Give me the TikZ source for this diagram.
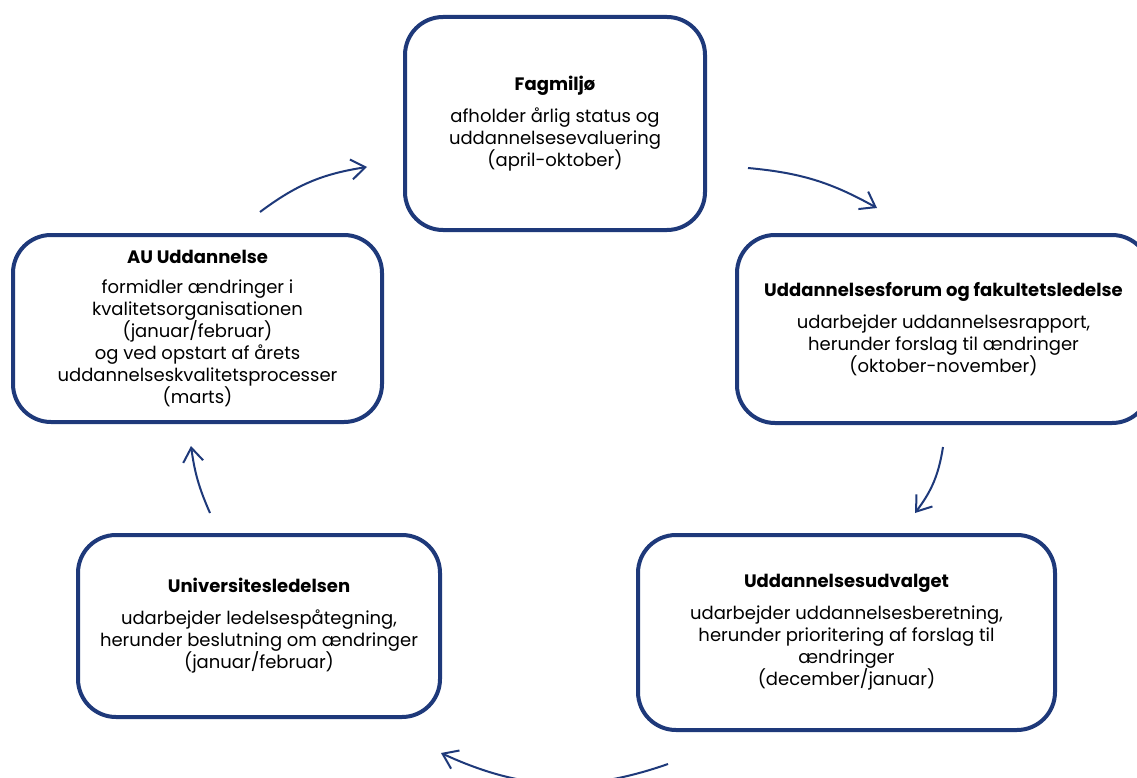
\documentclass[tikz,border=0pt]{standalone}
\usepackage{fontspec}
\setmainfont{Poppins}
\usetikzlibrary{arrows.meta}
\definecolor{aublue}{RGB}{30,57,122}
\begin{document}
\begin{tikzpicture}[x=1pt,y=-1pt,
  box/.style={draw=aublue, line width=4pt, rounded corners=38pt, fill=white,
    align=center, inner sep=0pt,
    font=\fontsize{18}{22}\selectfont},
  flow/.style={draw=aublue, line width=2pt,
    -{Straight Barb[length=14pt,width=20pt,line width=2pt]}}]
\clip (0,0) rectangle (1137,778);
\fill[white] (0,0) rectangle (1137,778);

\node[box, minimum width=300pt, minimum height=213pt] (fag) at (555,123.5)
  {{\bfseries Fagmiljø}\\[10pt]
   afholder årlig status og\\
   uddannelsesevaluering\\
   (april-oktober)};

\node[box, minimum width=413pt, minimum height=188pt] (ufo) at (943.5,329)
  {{\bfseries Uddannelsesforum og fakultetsledelse}\\[10pt]
   udarbejder uddannelsesrapport,\\
   herunder forslag til ændringer\\
   (oktober-november)};

\node[box, minimum width=417pt, minimum height=195pt] (udv) at (846.5,632.5)
  {{\bfseries Uddannelsesudvalget}\\[10pt]
   udarbejder uddannelsesberetning,\\
   herunder prioritering af forslag til\\
   ændringer\\
   (december/januar)};

\node[box, minimum width=362pt, minimum height=182pt] (uni) at (259,626)
  {{\bfseries Universitesledelsen}\\[10pt]
   udarbejder ledelsespåtegning,\\
   herunder beslutning om ændringer\\
   (januar/februar)};

\node[box, minimum width=369pt, minimum height=187pt] (auu) at (197.5,328.5)
  {{\bfseries AU Uddannelse}\\[8pt]
   formidler ændringer i\\
   kvalitetsorganisationen\\
   (januar/februar)\\
   og ved opstart af årets\\
   uddannelseskvalitetsprocesser\\
   (marts)};

\coordinate (a1s) at (260,212);
\coordinate (a1e) at (367,167);
\coordinate (a2s) at (748,168);
\coordinate (a2e) at (877,208);
\coordinate (a3s) at (943,447);
\coordinate (a3e) at (915,513);
\coordinate (a4s) at (668,764);
\coordinate (a4e) at (441,753);
\coordinate (a5s) at (210,513);
\coordinate (a5e) at (191,446);

\draw[flow] (a1s) to[bend left=14] (a1e);
\draw[flow] (a2s) to[bend left=12] (a2e);
\draw[flow] (a3s) to[bend left=14] (a3e);
\draw[flow] (a4s) to[bend left=22] (a4e);
\draw[flow] (a5s) to[bend left=8] (a5e);
\end{tikzpicture}
\end{document}
